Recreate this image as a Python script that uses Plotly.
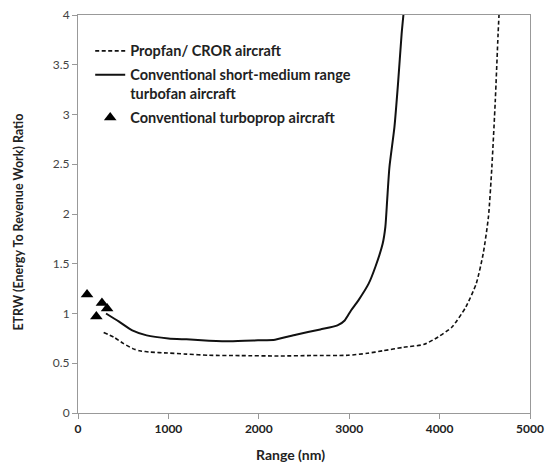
import plotly.graph_objects as go

# Data
propfan_range = [284, 400, 500, 606, 683, 800, 990, 1200, 1450, 1800, 2218, 2600, 2985, 3200, 3370, 3600, 3830, 3983, 4137, 4290, 4405, 4482, 4540, 4578, 4616, 4647, 4660]
propfan_etrw = [0.81, 0.76, 0.70, 0.647, 0.625, 0.612, 0.603, 0.592, 0.58, 0.577, 0.573, 0.578, 0.58, 0.60, 0.625, 0.66, 0.69, 0.764, 0.864, 1.065, 1.30, 1.60, 1.97, 2.47, 3.14, 3.81, 4.05]

turbofan_range = [310, 450, 600, 760, 1000, 1200, 1450, 1680, 1990, 2180, 2410, 2680, 2870, 2950, 3020, 3100, 3215, 3290, 3370, 3400, 3420, 3445, 3500, 3540, 3580, 3605]
turbofan_etrw = [1.0, 0.92, 0.83, 0.78, 0.75, 0.74, 0.727, 0.72, 0.73, 0.737, 0.787, 0.84, 0.88, 0.93, 1.03, 1.13, 1.30, 1.47, 1.70, 1.87, 2.14, 2.47, 2.87, 3.31, 3.81, 4.05]

turboprop_range = [100, 203, 265, 322]
turboprop_etrw = [1.19, 0.97, 1.105, 1.05]

x_ticks = [0, 1000, 2000, 3000, 4000, 5000]
y_ticks = [0, 0.5, 1, 1.5, 2, 2.5, 3, 3.5, 4]
y_tick_text = ["0", "0.5", "1", "1.5", "2", "2.5", "3", "3.5", "4"]

FONT = "Lato"

fig = go.Figure()
fig.add_trace(go.Scatter(
    x=propfan_range, y=propfan_etrw, mode="lines",
    name="Propfan/ CROR aircraft", legendgroup="a",
    line=dict(color="#111111", width=1.6, dash="4px,2.5px", shape="spline", smoothing=0.6),
))
fig.add_trace(go.Scatter(
    x=turbofan_range, y=turbofan_etrw, mode="lines",
    name="Conventional short-medium range<br>turbofan aircraft", legendgroup="b",
    line=dict(color="#111111", width=2, shape="spline", smoothing=0.6),
))
fig.add_trace(go.Scatter(
    x=turboprop_range, y=turboprop_etrw, mode="markers",
    name="Conventional turboprop aircraft", legendgroup="c",
    marker=dict(symbol="triangle-up", color="black", size=11),
))

fig.update_layout(
    width=545, height=468,
    margin=dict(l=77.5, r=15, t=15, b=55),
    paper_bgcolor="white", plot_bgcolor="white",
    font=dict(family=FONT, color="#222222"),
    showlegend=True,
    legend=dict(
        x=0.027, y=0.95, xanchor="left", yanchor="top",
        bgcolor="rgba(0,0,0,0)",
        font=dict(family=FONT, size=14.5, color="#222222", weight="bold"),
        valign="top", tracegroupgap=2,
    ),
    xaxis=dict(
        range=[0, 5000], tickvals=x_ticks, ticktext=[str(v) for v in x_ticks],
        showgrid=False, zeroline=False, automargin=False,
        showline=True, linecolor="#999999", linewidth=1, mirror=True,
        ticks="outside", ticklen=5, tickcolor="#999999",
        tickfont=dict(family=FONT, size=12, color="#222222", weight="bold"),
    ),
    yaxis=dict(
        range=[0, 4], tickvals=y_ticks, ticktext=y_tick_text,
        showgrid=False, zeroline=False, automargin=False,
        showline=True, linecolor="#999999", linewidth=1, mirror=True,
        ticks="outside", ticklen=5, tickcolor="#999999",
        tickfont=dict(family=FONT, size=12, color="#444444"),
    ),
    annotations=[
        dict(text="Range (nm)", xref="paper", yref="paper",
             x=(290 - 77.5) / 452.5, y=-(455 - 413) / 398.0,
             xanchor="center", yanchor="middle", showarrow=False,
             font=dict(family=FONT, size=14, color="#222222", weight="bold")),
        dict(text="ETRW (Energy To Revenue Work) Ratio", xref="paper", yref="paper",
             x=-(77.5 - 17) / 452.5, y=(413 - 222) / 398.0, textangle=-90,
             xanchor="center", yanchor="middle", showarrow=False,
             font=dict(family=FONT, size=12.5, color="#222222", weight="bold")),
    ],
)

fig.write_html("out.html", config={"displayModeBar": False},
               post_script="document.body.style.margin='0';document.body.style.padding='0';")
